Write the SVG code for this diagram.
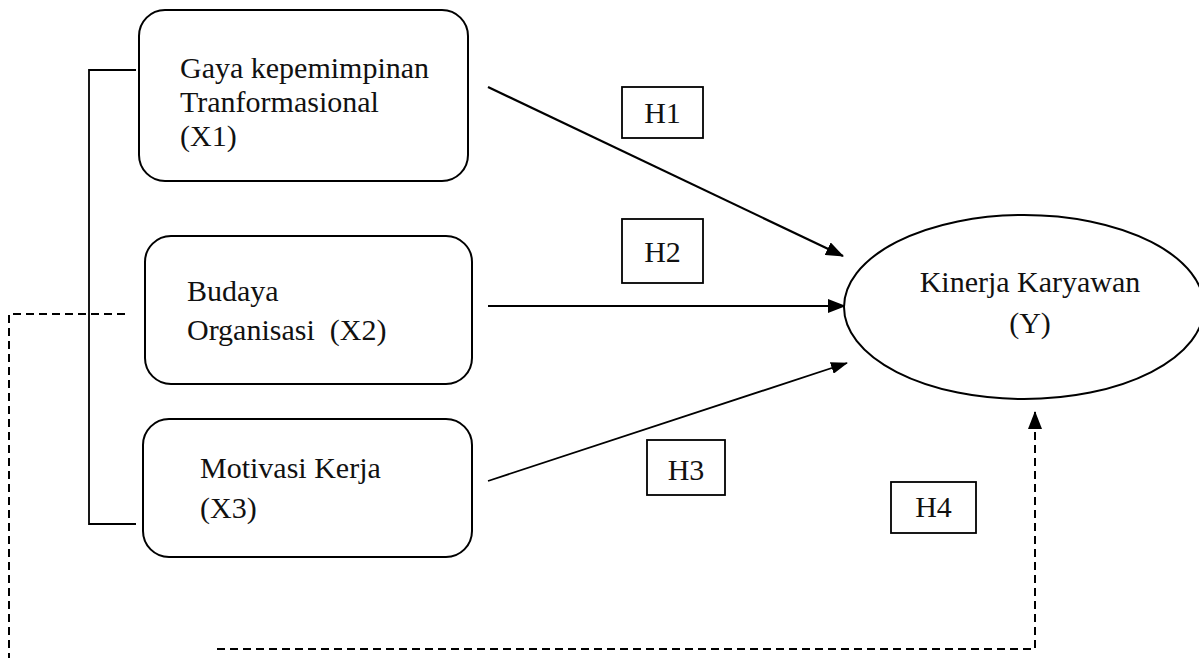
<svg xmlns="http://www.w3.org/2000/svg" width="1199" height="658" viewBox="0 0 1199 658">
<style>
  .box{fill:#fff;stroke:#000;stroke-width:2}
  .hb{fill:#fff;stroke:#000;stroke-width:1.8}
  .t{font-family:"Liberation Serif",serif;font-size:30px;fill:#111;white-space:pre}
  .ln{stroke:#000;stroke-width:2.2;fill:none}
  .sl{stroke:#000;stroke-width:1.8;fill:none}
  .ds{stroke:#000;stroke-width:2;fill:none;stroke-dasharray:8 5}
</style>
<defs>
  <marker id="ahb" markerWidth="18" markerHeight="14" refX="17" refY="7" orient="auto" markerUnits="userSpaceOnUse" viewBox="0 0 18 14">
    <path d="M0,0 L18,7 L0,14 z" fill="#000"/>
  </marker>
  <marker id="ahs" markerWidth="17" markerHeight="12" refX="16" refY="6" orient="auto" markerUnits="userSpaceOnUse" viewBox="0 0 17 12">
    <path d="M0,0 L17,6 L0,12 z" fill="#000"/>
  </marker>
</defs>
<g id="connectors">
  <path class="sl" d="M136,70 H89 V524 H136"/>
  <path class="ds" d="M125,314 H9 V658"/>
  <path class="ds" d="M217,649 H1035 V412" marker-end="url(#ahb)"/>
  <line class="ln" x1="488" y1="87" x2="843" y2="256" marker-end="url(#ahb)"/>
  <line class="ln" x1="488" y1="306" x2="845" y2="306" marker-end="url(#ahb)"/>
  <line class="sl" x1="488" y1="481" x2="847" y2="363" marker-end="url(#ahs)"/>
</g>
<g id="x1">
  <rect class="box" x="139" y="10" width="329" height="171" rx="26"/>
  <text class="t" x="180" y="78">Gaya kepemimpinan</text>
  <text class="t" x="180" y="112">Tranformasional</text>
  <text class="t" x="180" y="146">(X1)</text>
</g>
<g id="x2">
  <rect class="box" x="145" y="236" width="327" height="148" rx="26"/>
  <text class="t" x="187" y="301">Budaya</text>
  <text class="t" x="187" y="340">Organisasi  (X2)</text>
</g>
<g id="x3">
  <rect class="box" x="143" y="419" width="329" height="138" rx="26"/>
  <text class="t" x="200" y="478">Motivasi Kerja</text>
  <text class="t" x="200" y="518">(X3)</text>
</g>
<g id="y">
  <ellipse class="box" cx="1024" cy="307" rx="180" ry="92"/>
  <text class="t" x="1030" y="292" text-anchor="middle">Kinerja Karyawan</text>
  <text class="t" x="1030" y="333" text-anchor="middle">(Y)</text>
</g>
<g id="h1">
  <rect class="hb" x="622" y="87" width="81" height="51"/>
  <text class="t" x="662.5" y="123" text-anchor="middle">H1</text>
</g>
<g id="h2">
  <rect class="hb" x="622" y="219" width="81" height="64"/>
  <text class="t" x="662.5" y="262" text-anchor="middle">H2</text>
</g>
<g id="h3">
  <rect class="hb" x="647" y="440" width="78" height="55"/>
  <text class="t" x="686" y="480" text-anchor="middle">H3</text>
</g>
<g id="h4">
  <rect class="hb" x="891" y="482" width="85" height="51"/>
  <text class="t" x="933.5" y="517" text-anchor="middle">H4</text>
</g>
</svg>
